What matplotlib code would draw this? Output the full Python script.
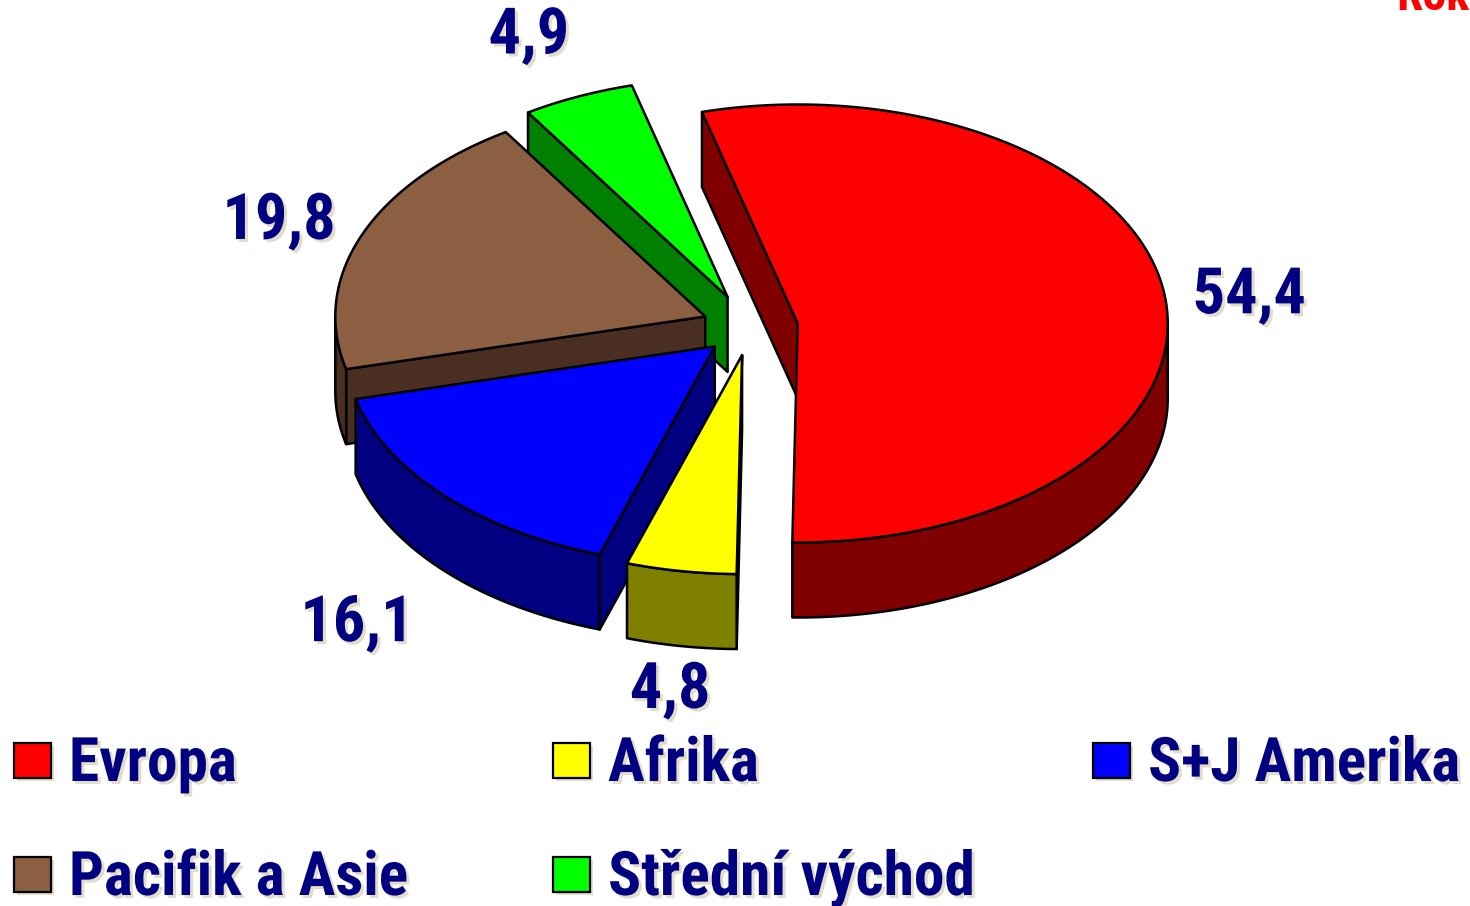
import os
import numpy as np
import matplotlib
matplotlib.use("Agg")
import matplotlib.pyplot as plt
from matplotlib.patches import Polygon, Rectangle
from matplotlib import patheffects as pe
from matplotlib import font_manager as fm

# ---------------- data ----------------
categories = ["Evropa", "Afrika", "S+J Amerika", "Pacifik a Asie", "Střední východ"]
values = [54.4, 4.8, 16.1, 19.8, 4.9]
value_labels = ["54,4", "4,8", "16,1", "19,8", "4,9"]
corner_text = "Rok"

# ---------------- style / layout ----------------
top_colors = ["#FF0000", "#FFFF00", "#0000FF", "#8C5F43", "#00FF00"]
side_colors = ["#800000", "#808000", "#000080", "#4A2E22", "#008000"]
explode = [0.13, 0.13, 0.13, 0.13, 0.15]
label_radius = [1.23, 1.18, 1.32, 1.24, 1.33]
text_color = "#000080"
shadow_color = "#E3DCC8"


def _is_bold(w):
    if isinstance(w, (int, float)):
        return w >= 600
    return str(w).lower() in ("bold", "heavy", "black", "demibold", "semibold", "extra bold", "ultrabold")


def _is_cond(f):
    n = (f.name + " " + os.path.basename(f.fname)).lower()
    st = f.stretch
    if isinstance(st, (int, float)):
        c = st < 500
    else:
        c = "condensed" in str(st).lower() or "narrow" in str(st).lower()
    return c or "narrow" in n or "condensed" in n


def find_condensed_bold():
    prefs = ["liberation sans narrow", "arial narrow", "roboto condensed", "open sans",
             "noto sans", "dejavu sans", "lato", "inter"]
    found = []
    for f in fm.fontManager.ttflist:
        if f.style != "normal":
            continue
        if not _is_bold(f.weight) or not _is_cond(f):
            continue
        base = os.path.basename(f.fname).lower()
        if "extra" in base or "semi" in base or "black" in base or "mono" in base:
            continue
        rank = len(prefs)
        for k, p in enumerate(prefs):
            if f.name.lower().startswith(p):
                rank = k
                break
        found.append((rank, f.fname))
    if found:
        found.sort()
        return fm.FontProperties(fname=found[0][1])
    return fm.FontProperties(family="Liberation Sans", weight="bold")


FP = find_condensed_bold()

W, H = 1470, 906
fig = plt.figure(figsize=(W / 100, H / 100), dpi=100)
ax = fig.add_axes([0, 0, 1, 1])
ax.set_xlim(0, W)
ax.set_ylim(H, 0)
ax.axis("off")
renderer = fig.canvas.get_renderer()


def fit_size(text, target_px, max_size):
    t = ax.text(0, 0, text, fontproperties=FP, fontsize=40)
    w = t.get_window_extent(renderer).width
    t.remove()
    return min(max_size, 40.0 * target_px / w)


LEGEND_SIZE = min(fit_size("Evropa", 178, 46), fit_size("S+J Amerika", 312, 46))
LABEL_SIZE = fit_size("54,4", 113, 48)
CORNER_SIZE = LEGEND_SIZE * 0.78

CX, CY = 750, 327
RX, RY = 370, 219
DEPTH = 75
START = 105.0
LW = 1.8


def pt(cx, cy, ang, r=1.0, dz=0.0):
    a = np.radians(ang)
    return cx + r * RX * np.cos(a), cy - r * RY * np.sin(a) + dz


def arc(cx, cy, a_from, a_to, n=200, dz=0.0):
    th = np.linspace(a_from, a_to, n)
    x, y = pt(cx, cy, th, 1.0, dz)
    return np.column_stack([x, y])


total = sum(values)
slices = []
a = START
for i, v in enumerate(values):
    span = 360.0 * v / total
    a1, a2 = a, a - span
    mid = (a1 + a2) / 2.0
    ox, oy = pt(CX, CY, mid, explode[i])
    slices.append(dict(i=i, a1=a1, a2=a2, mid=mid, ox=ox, oy=oy))
    a -= span

shadow = [pe.withSimplePatchShadow(offset=(2.2, -2.2), shadow_rgbFace=shadow_color, alpha=1.0)]

# ---------- walls (back to front) ----------
order = sorted(slices, key=lambda s: -np.sin(np.radians(s["mid"])))
for s in order:
    i, a1, a2, ox, oy = s["i"], s["a1"], s["a2"], s["ox"], s["oy"]
    col = side_colors[i]
    walls = []
    if np.cos(np.radians(a1)) < 0:
        px, py = pt(ox, oy, a1)
        walls.append([(ox, oy), (px, py), (px, py + DEPTH), (ox, oy + DEPTH)])
    if np.cos(np.radians(a2)) > 0:
        px, py = pt(ox, oy, a2)
        walls.append([(ox, oy), (px, py), (px, py + DEPTH), (ox, oy + DEPTH)])
    th = np.linspace(a1, a2, 600)
    vis = np.sin(np.radians(th)) < 0
    runs, cur = [], []
    for t, v in zip(th, vis):
        if v:
            cur.append(t)
        elif cur:
            runs.append(cur)
            cur = []
    if cur:
        runs.append(cur)
    for run in runs:
        if len(run) < 2:
            continue
        run = np.array(run)
        x, y = pt(ox, oy, run)
        top = np.column_stack([x, y])
        bot = np.column_stack([x, y + DEPTH])[::-1]
        walls.append(np.vstack([top, bot]))
    for w in walls:
        ax.add_patch(Polygon(w, closed=True, facecolor=col, edgecolor="black",
                             linewidth=LW, joinstyle="round", zorder=2))

# ---------- top faces ----------
for s in slices:
    i = s["i"]
    pts = np.vstack([[s["ox"], s["oy"]], arc(s["ox"], s["oy"], s["a1"], s["a2"])])
    ax.add_patch(Polygon(pts, closed=True, facecolor=top_colors[i], edgecolor="black",
                         linewidth=LW, joinstyle="round", zorder=3))

# ---------- value labels ----------
for s in slices:
    i = s["i"]
    sn = np.sin(np.radians(s["mid"]))
    lx, ly = pt(s["ox"], s["oy"], s["mid"], label_radius[i], DEPTH if sn < 0 else 0.0)
    ax.text(lx, ly + 23, value_labels[i], ha="center", va="baseline", fontsize=LABEL_SIZE,
            fontproperties=FP, color=text_color, path_effects=shadow, zorder=5)

# ---------- legend ----------
col_x = [14, 553, 1093]
row_y = [743, 857]
for k, name in enumerate(categories):
    r, c = divmod(k, 3)
    x0, y0 = col_x[c], row_y[r]
    ax.add_patch(Rectangle((x0 + 3, y0 + 3), 37, 35, facecolor=shadow_color, edgecolor="none", zorder=4))
    ax.add_patch(Rectangle((x0, y0), 37, 35, facecolor=top_colors[k], edgecolor="black",
                           linewidth=1.6, zorder=5))
    ax.text(x0 + 55, y0 + 38, name, ha="left", va="baseline", fontsize=LEGEND_SIZE,
            fontproperties=FP, color=text_color, path_effects=shadow, zorder=5)

# ---------- corner text (cut off at top in the reference) ----------
ax.text(1396, 10, corner_text, ha="left", va="baseline", fontsize=CORNER_SIZE,
        fontproperties=FP, color="#FF0000", zorder=5)

fig.savefig("out.png", dpi=100)
